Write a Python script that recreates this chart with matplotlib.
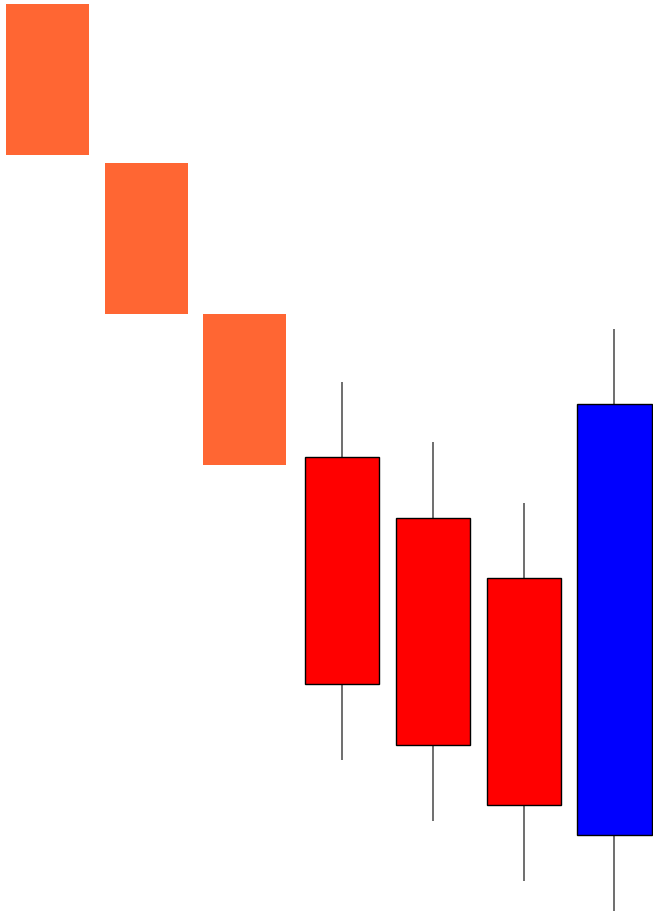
import matplotlib
matplotlib.use("Agg")
import matplotlib.pyplot as plt
from matplotlib.patches import Rectangle

# shaded blocks (no wicks)
block_x = [0.52, 1.61, 2.69]
block_top = [90.8, 74.9, 59.8]
block_bottom = [75.7, 59.8, 44.7]
block_width = 0.91

# candles
candle_x = [3.76, 4.76, 5.76, 6.75]
opens = [45.5, 39.4, 33.4, 7.7]
highs = [53.0, 47.0, 40.9, 58.3]
lows = [15.2, 9.1, 3.1, 0.1]
closes = [22.8, 16.7, 10.7, 50.8]
candle_width = 0.82

fig = plt.figure(figsize=(6.53, 9.12), dpi=100)
ax = fig.add_axes([0, 0, 1, 1])
ax.set_xlim(0, 653 / 91)
ax.set_ylim(0.1, 91.3)
ax.axis("off")

for x, t, b in zip(block_x, block_top, block_bottom):
    ax.add_patch(Rectangle((x - block_width / 2, b), block_width, t - b,
                           facecolor="#ff6633", edgecolor="none"))

for x, o, h, l, c in zip(candle_x, opens, highs, lows, closes):
    color = "#0000ff" if c > o else "#ff0000"
    ax.vlines(x, l, h, color="#555555", linewidth=1.2, zorder=1)
    ax.add_patch(Rectangle((x - candle_width / 2, min(o, c)), candle_width, abs(c - o),
                           facecolor=color, edgecolor="black", linewidth=1, zorder=2))

fig.savefig("out.png", dpi=100)
